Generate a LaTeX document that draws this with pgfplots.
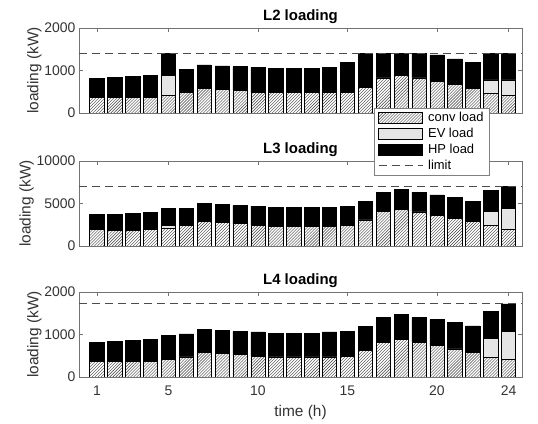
\documentclass[border=0pt]{standalone}
\usepackage{pgfplots}
\pgfplotsset{compat=1.18}
\usepackage{pgfplotstable}
\usetikzlibrary{patterns}
\usepackage{fontspec}
\setmainfont{Liberation Sans}

\pgfplotstableread{
t conv ev hp
1 375 0 445
2 375 0 469
3 375 0 492
4 375 0 515
5 414 469 527
6 477 0 554
7 586 0 547
8 563 0 547
9 531 0 563
10 492 0 578
11 477 0 570
12 477 0 570
13 477 0 570
14 477 0 593
15 492 0 703
16 594 0 816
17 828 0 582
18 890 0 520
19 828 0 582
20 750 0 617
21 664 0 609
22 586 0 609
23 469 312 629
24 414 367 629
}\Ltwo

\pgfplotstableread{
t conv ev hp
1 1920 0 1805
2 1840 0 1885
3 1840 0 2000
4 1920 0 2040
5 2040 390 2000
6 2430 0 2000
7 2860 0 2120
8 2745 0 2155
9 2630 0 2150
10 2430 0 2235
11 2310 0 2240
12 2310 0 2240
13 2310 0 2240
14 2310 0 2240
15 2430 0 2235
16 3060 0 2230
17 4080 0 2230
18 4350 0 2275
19 4000 0 2310
20 3645 0 2355
21 3255 0 2430
22 2860 0 2430
23 2390 1725 2395
24 2000 2470 2580
}\Lthree

\pgfplotstableread{
t conv ev hp
1 369 0 439
2 369 0 462
3 369 0 486
4 369 0 509
5 420 20 533
6 471 0 541
7 573 0 549
8 549 0 549
9 525 0 550
10 494 0 565
11 471 0 564
12 471 0 564
13 471 0 564
14 471 0 588
15 494 0 588
16 620 0 564
17 816 0 588
18 878 0 597
19 816 0 588
20 737 0 612
21 659 0 627
22 580 0 620
23 463 447 635
24 408 659 653
}\Lfour

\pgfplotsset{
  panel/.style={
    scale only axis, width=443bp, height=85bp,
    xmin=0, xmax=24.75, ymin=0,
    ybar stacked, bar width=0.8,
    xtick={1,5,10,15,20,24},
    tick align=inside, major tick length=4bp,
    xtick pos=both, ytick pos=both,
    axis line style={black!55},
    every tick/.style={black!55},
    tick label style={black!80, font=\fontsize{14}{16}\selectfont},
    xticklabel style={yshift=-5bp},
    /pgf/number format/assume math mode=true,
    /pgf/number format/1000 sep={},
    scaled y ticks=false,
    title style={font=\bfseries\fontsize{15}{17}\selectfont, yshift=-5bp},
    label style={black!80, font=\fontsize{15.5}{17}\selectfont},
    ylabel={loading (kW)},
    ylabel style={yshift=-4bp},
    area legend,
  },
  conv/.style={draw=black, line width=0.6bp, fill=white, postaction={pattern=north east lines, pattern color=black!75}},
  ev/.style={draw=black, line width=0.6bp, fill=black!10},
  hp/.style={draw=black, line width=0.6bp, fill=black},
  boxleg/.style={legend image code/.code={\draw[##1] (0bp,-5.5bp) rectangle (44bp,5.5bp);}},
  lineleg/.style={legend image code/.code={\draw[##1] (0bp,0bp) -- (44bp,0bp);}},
  limover/.style={scale only axis, width=443bp, height=85bp, xmin=0, xmax=24.75, ymin=0, hide axis},
  lim/.style={black!70, line width=0.9bp, dash pattern=on 8bp off 5bp},
}

\begin{document}
\begin{tikzpicture}
\path (0,0) rectangle (538bp,424bp);

% L3
\begin{axis}[panel, at={(79bp,178bp)}, anchor=south west, ymax=10000,
  ytick={0,5000,10000}, xticklabels={}, title={L3 loading}]
\addplot[conv] table[x=t,y=conv]{\Lthree};
\addplot[ev] table[x=t,y=ev]{\Lthree};
\addplot[hp] table[x=t,y=hp]{\Lthree};
\end{axis}
\begin{axis}[limover, at={(79bp,178bp)}, anchor=south west, ymax=10000]
\addplot[lim] coordinates {(0,7050) (24.75,7050)};
\end{axis}

% L4
\begin{axis}[panel, at={(79bp,47bp)}, anchor=south west, ymax=2000,
  ytick={0,1000,2000}, xticklabels={1,5,10,15,20,24}, title={L4 loading},
  xlabel={time (h)}, xlabel style={yshift=-3bp}]
\addplot[conv] table[x=t,y=conv]{\Lfour};
\addplot[ev] table[x=t,y=ev]{\Lfour};
\addplot[hp] table[x=t,y=hp]{\Lfour};
\end{axis}
\begin{axis}[limover, at={(79bp,47bp)}, anchor=south west, ymax=2000]
\addplot[lim] coordinates {(0,1720) (24.75,1720)};
\end{axis}

% L2
\begin{axis}[panel, at={(79bp,311bp)}, anchor=south west, ymax=2000,
  ytick={0,1000,2000}, xticklabels={}, title={L2 loading},
  legend style={at={(0.666,0.06)}, anchor=north west, draw=black!50, fill=white,
    font=\fontsize{13}{15}\selectfont, row sep=1.2bp, column sep=3bp,
    inner xsep=4bp, inner ysep=2bp, cells={anchor=west}},
  legend cell align=left]
\addplot[conv, boxleg] table[x=t,y=conv]{\Ltwo};
\addlegendentry{conv load}
\addplot[ev, boxleg] table[x=t,y=ev]{\Ltwo};
\addlegendentry{EV load}
\addplot[hp, boxleg] table[x=t,y=hp]{\Ltwo};
\addlegendentry{HP load}
\addlegendimage{lim, lineleg}
\addlegendentry{limit}
\end{axis}
\begin{axis}[limover, at={(79bp,311bp)}, anchor=south west, ymax=2000]
\addplot[lim] coordinates {(0,1410) (24.75,1410)};
\end{axis}
\end{tikzpicture}
\end{document}
